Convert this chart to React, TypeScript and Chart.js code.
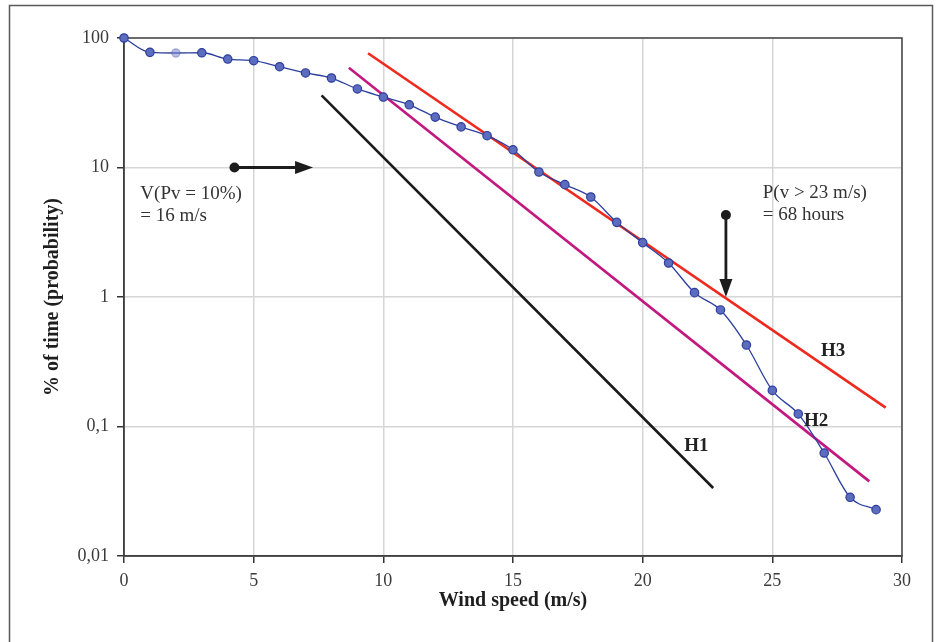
import React, { useEffect, useRef } from 'react';
import { Chart, registerables } from 'chart.js';

Chart.register(...registerables);

// ---- data ----
const windSpeed = [0, 1, 2, 3, 4, 5, 6, 7, 8, 9, 10, 11, 12, 13, 14, 15, 16, 17, 18, 19, 20, 21, 22, 23, 24, 25, 26, 27, 28, 29];
const percentTime = [100, 77.5, 76.6, 76.9, 68.8, 66.8, 60, 53.7, 49.1, 40.4, 35, 30.5, 24.5, 20.6, 17.6, 13.7, 9.23, 7.37, 5.92, 3.77, 2.63, 1.83, 1.08, 0.794, 0.426, 0.19, 0.125, 0.0624, 0.0284, 0.0228];
const fadedIndex = 2;

const h1X = [7.62, 22.72];
const h1Y = [36.1, 0.0335];
const h2X = [8.67, 28.74];
const h2Y = [59, 0.0377];
const h3X = [9.41, 29.37];
const h3Y = [76.2, 0.14];

const yTickValues = [0.01, 0.1, 1, 10, 100];
const yTickLabels = ['0,01', '0,1', '1', '10', '100'];

const xTitle = 'Wind speed (m/s)';
const yTitle = '% of time (probability)';

// annotations (data coordinates)
const arrowVStart = [4.26, 10];
const arrowVEnd = [7.29, 10];
const arrowPStart = [23.21, 4.3];
const arrowPEnd = [23.21, 1.0];
const noteVLines = ['V(Pv = 10%)', '= 16 m/s'];
const noteVPos = [0.63, 5.68];
const notePLines = ['P(v > 23 m/s)', '= 68 hours'];
const notePPos = [24.63, 5.84];
const hLabels = ['H1', 'H2', 'H3'];
const hLabelX = [21.6, 26.22, 26.88];
const hLabelY = [0.065, 0.1009, 0.35];

const FONT = '"Liberation Serif", "Times New Roman", serif';

const pairs = (xs: number[], ys: number[]) => xs.map((x, i) => ({ x, y: ys[i] }));

function drawArrow(ctx: CanvasRenderingContext2D, x0: number, y0: number, x1: number, y1: number) {
  const headLen = 18;
  const headHalf = 6.5;
  const ang = Math.atan2(y1 - y0, x1 - x0);
  const c = Math.cos(ang), s = Math.sin(ang);
  const bx = x1 - headLen * c, by = y1 - headLen * s;
  ctx.save();
  ctx.strokeStyle = '#1c1c1c';
  ctx.fillStyle = '#1c1c1c';
  ctx.lineWidth = 2.8;
  ctx.beginPath();
  ctx.moveTo(x0, y0);
  ctx.lineTo(bx + 2 * c, by + 2 * s);
  ctx.stroke();
  ctx.beginPath();
  ctx.moveTo(x1, y1);
  ctx.lineTo(bx + headHalf * s, by - headHalf * c);
  ctx.lineTo(bx - headHalf * s, by + headHalf * c);
  ctx.closePath();
  ctx.fill();
  ctx.beginPath();
  ctx.arc(x0, y0, 5, 0, Math.PI * 2);
  ctx.fill();
  ctx.restore();
}

const decorPlugin = {
  id: 'decor',
  beforeDraw(chart: any) {
    const ctx = chart.ctx;
    ctx.save();
    ctx.fillStyle = '#ffffff';
    ctx.fillRect(0, 0, chart.width, chart.height);
    ctx.strokeStyle = '#5a5a5a';
    ctx.lineWidth = 1.5;
    ctx.strokeRect(9.5, 5.5, 923, 660);
    ctx.restore();
  },
  beforeDatasetsDraw(chart: any) {
    const { ctx, chartArea } = chart;
    ctx.save();
    ctx.strokeStyle = '#444';
    ctx.lineWidth = 1.5;
    ctx.strokeRect(chartArea.left, chartArea.top, chartArea.right - chartArea.left, chartArea.bottom - chartArea.top);
    ctx.restore();
  },
  afterDatasetsDraw(chart: any) {
    const { ctx } = chart;
    const xs = chart.scales.x;
    const ys = chart.scales.y;
    const px = (v: number) => xs.getPixelForValue(v);
    const py = (v: number) => ys.getPixelForValue(v);

    drawArrow(ctx, px(arrowVStart[0]), py(arrowVStart[1]), px(arrowVEnd[0]), py(arrowVEnd[1]));
    drawArrow(ctx, px(arrowPStart[0]), py(arrowPStart[1]), px(arrowPEnd[0]), py(arrowPEnd[1]));

    ctx.save();
    ctx.font = `19px ${FONT}`;
    ctx.fillStyle = '#333333';
    ctx.textAlign = 'left';
    ctx.textBaseline = 'alphabetic';
    noteVLines.forEach((t, i) => ctx.fillText(t, px(noteVPos[0]), py(noteVPos[1]) + i * 22));
    notePLines.forEach((t, i) => ctx.fillText(t, px(notePPos[0]), py(notePPos[1]) + i * 22));
    ctx.font = `bold 19px ${FONT}`;
    ctx.fillStyle = '#222222';
    hLabels.forEach((t, i) => ctx.fillText(t, px(hLabelX[i]), py(hLabelY[i])));
    ctx.restore();
  },
};

export default function App() {
  const ref = useRef<HTMLCanvasElement>(null);

  useEffect(() => {
    const pointBg = percentTime.map((_, i) => (i === fadedIndex ? 'rgba(120,134,205,0.55)' : '#5c6cbf'));
    const pointBorder = percentTime.map((_, i) => (i === fadedIndex ? 'rgba(60,80,170,0.35)' : '#2d3e9c'));

    const chart = new Chart(ref.current as HTMLCanvasElement, {
      type: 'line',
      data: {
        datasets: [
          {
            label: 'measured',
            data: pairs(windSpeed, percentTime),
            borderColor: '#2c3f9f',
            borderWidth: 1.3,
            pointBackgroundColor: pointBg,
            pointBorderColor: pointBorder,
            pointBorderWidth: 1.2,
            pointRadius: 4.2,
            cubicInterpolationMode: 'monotone',
            clip: false,
            order: 0,
          },
          {
            label: 'H3',
            data: pairs(h3X, h3Y),
            borderColor: '#ee2a1e',
            borderWidth: 2.6,
            pointRadius: 0,
            order: 1,
          },
          {
            label: 'H2',
            data: pairs(h2X, h2Y),
            borderColor: '#c2187f',
            borderWidth: 2.6,
            pointRadius: 0,
            order: 2,
          },
          {
            label: 'H1',
            data: pairs(h1X, h1Y),
            borderColor: '#1a1a1a',
            borderWidth: 2.6,
            pointRadius: 0,
            order: 3,
          },
        ],
      },
      options: {
        responsive: false,
        animation: false,
        devicePixelRatio: 1,
        layout: { padding: { left: 0, top: 38, right: 36, bottom: 0 } },
        plugins: {
          legend: { display: false },
          tooltip: { enabled: false },
        },
        scales: {
          x: {
            type: 'linear',
            min: 0,
            max: 30,
            afterFit: (s: any) => {
              s.height = 86;
            },
            ticks: {
              stepSize: 5,
              padding: 7,
              color: '#3a3a3a',
              font: { family: FONT, size: 18 },
            },
            grid: { color: '#d6d6d6', lineWidth: 1.5, tickColor: '#333', tickLength: 7 },
            border: { color: '#333', width: 1.5 },
            title: {
              display: true,
              text: xTitle,
              color: '#1e1e1e',
              font: { family: FONT, size: 20, weight: 'bold' },
              padding: { top: 0, bottom: 29 },
            },
          },
          y: {
            type: 'logarithmic',
            min: 0.01,
            max: 100,
            afterFit: (s: any) => {
              s.width = 124;
            },
            afterBuildTicks: (s: any) => {
              s.ticks = yTickValues.map((v) => ({ value: v }));
            },
            ticks: {
              padding: 8,
              color: '#3a3a3a',
              font: { family: FONT, size: 18 },
              callback: (v: any) => {
                const i = yTickValues.findIndex((t) => Math.abs(Math.log10(t) - Math.log10(Number(v))) < 1e-6);
                return i >= 0 ? yTickLabels[i] : '';
              },
            },
            grid: { color: '#d6d6d6', lineWidth: 1.5, tickColor: '#333', tickLength: 7 },
            border: { color: '#333', width: 1.5 },
            title: {
              display: true,
              text: yTitle,
              color: '#1e1e1e',
              font: { family: FONT, size: 20, weight: 'bold' },
              padding: { top: 41, bottom: 0 },
            },
          },
        },
      },
      plugins: [decorPlugin],
    } as any);

    return () => chart.destroy();
  }, []);

  return (
    <div style={{ position: 'absolute', left: 0, top: 0, width: 938, height: 642, background: '#fff' }}>
      <canvas ref={ref} width={938} height={642} style={{ display: 'block' }} />
    </div>
  );
}
